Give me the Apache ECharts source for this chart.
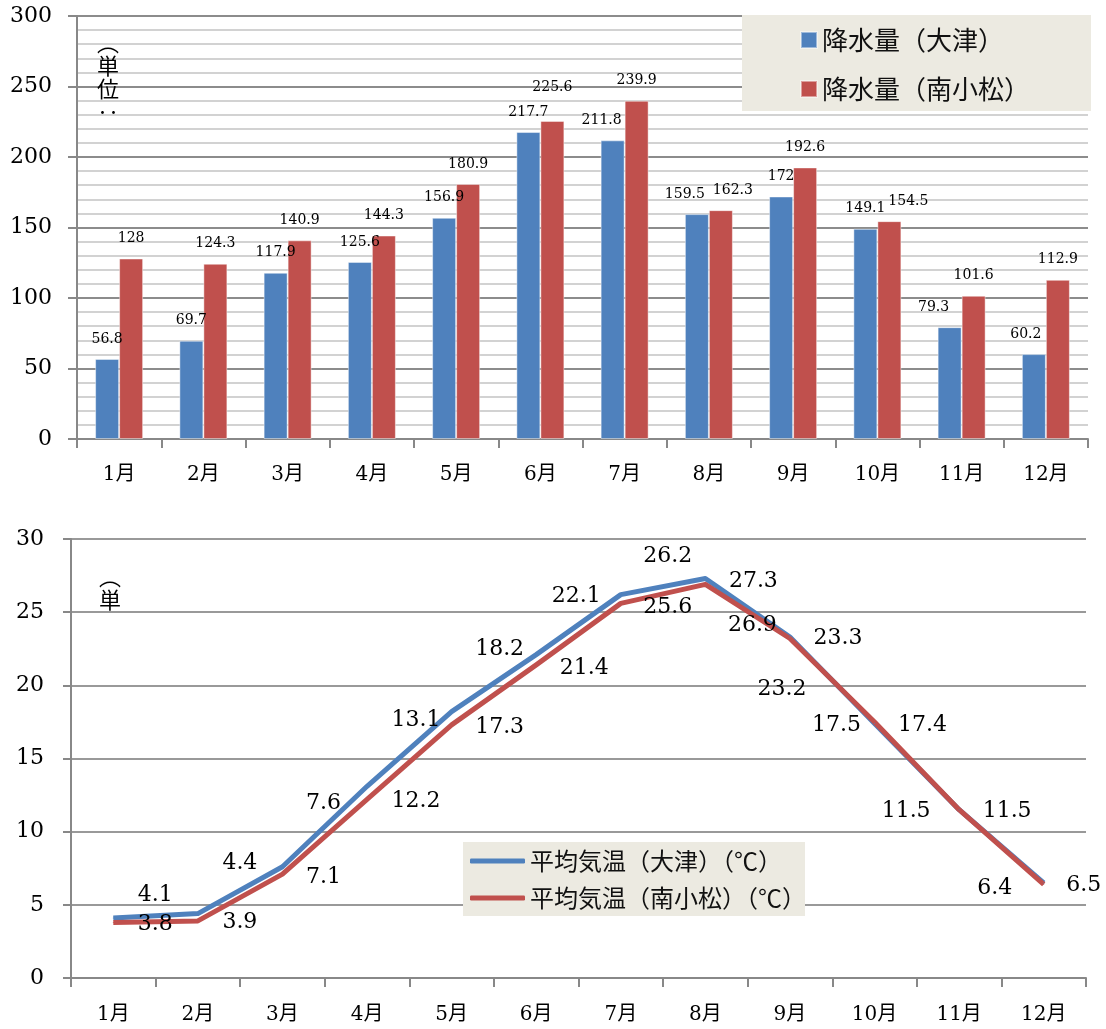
<!DOCTYPE html>
<html>
<head>
<meta charset="utf-8">
<script src="https://cdn.jsdelivr.net/npm/echarts@6/dist/echarts.min.js"></script>
<style>
html, body { margin: 0; padding: 0; background: #fff; }
#chart { width: 1106px; height: 1029px; }
</style>
</head>
<body>
<div id="chart"></div>
<script>
const months = ['1月', '2月', '3月', '4月', '5月', '6月', '7月', '8月', '9月', '10月', '11月', '12月']

const rainOtsu = [56.8, 69.7, 117.9, 125.6, 156.9, 217.7, 211.8, 159.5, 172, 149.1, 79.3, 60.2]
const rainMinami = [128, 124.3, 140.9, 144.3, 180.9, 225.6, 239.9, 162.3, 192.6, 154.5, 101.6, 112.9]

const tempOtsu = [4.1, 4.4, 7.6, 13.1, 18.2, 22.1, 26.2, 27.3, 23.3, 17.4, 11.5, 6.5]
const tempMinami = [3.8, 3.9, 7.1, 12.2, 17.3, 21.4, 25.6, 26.9, 23.2, 17.5, 11.5, 6.4]

const rainNames = ['降水量（大津）', '降水量（南小松）']
const tempNames = ['平均気温（大津）（℃）', '平均気温（南小松）（℃）']

// hand-nudged label spots, as in the original (px, [dx, dy])
const rainOtsuLabelShift = [[0, 0], [0, 0], [0, 0], [0, 0], [0, 0], [0, 0],
  [-11, 0], [-12, 0], [0, 0], [0, 0], [-16, 0], [-8, 0]]
const rainMinamiLabelShift = [[0, 0], [0, 0], [0, 0], [0, 0], [0, 0], [0, -14],
  [0, 0], [12, 0], [0, 0], [19, 0], [0, 0], [0, 0]]
const otsuLabelShift = [[42, -23], [42, -50], [41, -64], [49, -66], [48, -62], [40, -58],
  [47, -38], [48, 3], [48, 1], [48, 2], [48, 2], [40, 2]]
const minamiLabelShift = [[42, 2], [42, 1], [41, 3], [49, 2], [48, 2], [48, 3],
  [47, 4], [47, 41], [-8, 51], [-38, 3], [-53, 2], [-49, 4]]

const BLUE = '#4F81BD'
const RED = '#C0504D'
const SERIF = '"DejaVu Serif", "Noto Sans CJK JP", serif'
const SANS = '"Noto Sans CJK JP", sans-serif'

const chart = echarts.init(document.getElementById('chart'), null, { renderer: 'canvas' })

const withShift = (vals, shift) => vals.map((v, i) => ({
  value: v,
  label: { offset: shift[i] },
}))

const tickStyle = { color: '#888', width: 2 }

const option = {
  backgroundColor: '#fff',
  animation: false,
  grid: [
    { left: 77, top: 16, right: 18, height: 423 },
    { left: 71, top: 539, right: 20, height: 439 },
  ],
  xAxis: [
    {
      gridIndex: 0,
      type: 'category',
      data: months,
      axisLine: { lineStyle: tickStyle },
      axisTick: { show: true, length: 9, lineStyle: tickStyle },
      axisLabel: { fontFamily: SERIF, fontSize: 20, color: '#000', margin: 26 },
    },
    {
      gridIndex: 1,
      type: 'category',
      data: months,
      axisLine: { lineStyle: tickStyle },
      axisTick: { show: true, length: 9, lineStyle: tickStyle },
      axisLabel: { fontFamily: SERIF, fontSize: 20, color: '#000', margin: 27 },
    },
  ],
  yAxis: [
    {
      gridIndex: 0,
      type: 'value',
      min: 0,
      max: 300,
      interval: 50,
      axisLine: { show: true, lineStyle: tickStyle },
      axisTick: { show: true, length: 9, lineStyle: tickStyle },
      axisLabel: { fontFamily: SERIF, fontSize: 22, color: '#000', margin: 25 },
      splitLine: { lineStyle: { color: '#8c8c8c', width: 2 } },
      minorTick: { show: false, splitNumber: 5 },
      minorSplitLine: { show: true, lineStyle: { color: '#c4c4c4', width: 1.5 } },
    },
    {
      gridIndex: 1,
      type: 'value',
      min: 0,
      max: 30,
      interval: 5,
      axisLine: { show: true, lineStyle: tickStyle },
      axisTick: { show: true, length: 8, lineStyle: tickStyle },
      axisLabel: { fontFamily: SERIF, fontSize: 22, color: '#000', margin: 27 },
      splitLine: { lineStyle: { color: '#999', width: 2 } },
    },
  ],
  legend: [
    {
      data: rainNames,
      orient: 'vertical',
      left: 800,
      top: 27,
      padding: 0,
      itemWidth: 16,
      itemHeight: 16,
      itemGap: 23,
      icon: 'rect',
      textStyle: { fontFamily: SANS, fontSize: 26, lineHeight: 26, color: '#111' },
      z: 10,
    },
    {
      data: tempNames,
      orient: 'vertical',
      left: 470,
      top: 849,
      padding: 0,
      itemWidth: 55,
      itemHeight: 5,
      itemGap: 13,
      icon: 'roundRect',
      textStyle: { fontFamily: SANS, fontSize: 24, lineHeight: 24, color: '#111' },
      z: 10,
    },
  ],
  graphic: [
    { type: 'rect', z: 5, shape: { x: 742, y: 15, width: 349, height: 96 }, style: { fill: '#ECEAE1' } },
    { type: 'rect', z: 5, shape: { x: 463, y: 842, width: 342, height: 74 }, style: { fill: '#ECEAE1' } },
    {
      type: 'text', z: 5, x: 108, y: 31,
      style: { text: '︵\n単\n位\n‥', font: '22px "Noto Sans CJK JP"', lineHeight: 23, align: 'center', fill: '#000' },
    },
    {
      type: 'text', z: 5, x: 110, y: 565,
      style: { text: '︵\n単', font: '22px "Noto Sans CJK JP"', lineHeight: 23, align: 'center', fill: '#000' },
    },
  ],
  series: [
    {
      name: rainNames[0],
      type: 'bar',
      xAxisIndex: 0,
      yAxisIndex: 0,
      barWidth: 24,
      barGap: '0%',
      itemStyle: { color: BLUE, borderColor: 'rgba(255,255,255,0.45)', borderWidth: 1 },
      label: { show: true, position: 'top', distance: 13, fontFamily: SERIF, fontSize: 14, color: '#000' },
      data: withShift(rainOtsu, rainOtsuLabelShift),
    },
    {
      name: rainNames[1],
      type: 'bar',
      xAxisIndex: 0,
      yAxisIndex: 0,
      barWidth: 24,
      barGap: '0%',
      itemStyle: { color: RED, borderColor: 'rgba(255,255,255,0.45)', borderWidth: 1 },
      label: { show: true, position: 'top', distance: 13, fontFamily: SERIF, fontSize: 14, color: '#000' },
      data: withShift(rainMinami, rainMinamiLabelShift),
    },
    {
      name: tempNames[0],
      type: 'line',
      xAxisIndex: 1,
      yAxisIndex: 1,
      symbol: 'circle',
      symbolSize: 1,
      showSymbol: true,
      itemStyle: { color: BLUE },
      lineStyle: { color: BLUE, width: 5, join: 'round' },
      label: { show: true, position: 'inside', fontFamily: SERIF, fontSize: 22, color: '#000' },
      data: withShift(tempOtsu, otsuLabelShift),
    },
    {
      name: tempNames[1],
      type: 'line',
      xAxisIndex: 1,
      yAxisIndex: 1,
      symbol: 'circle',
      symbolSize: 1,
      showSymbol: true,
      itemStyle: { color: RED },
      lineStyle: { color: RED, width: 5, join: 'round' },
      label: { show: true, position: 'inside', fontFamily: SERIF, fontSize: 22, color: '#000' },
      data: withShift(tempMinami, minamiLabelShift),
    },
  ],
}

chart.setOption(option)
window.addEventListener('resize', () => chart.resize())
</script>
</body>
</html>
